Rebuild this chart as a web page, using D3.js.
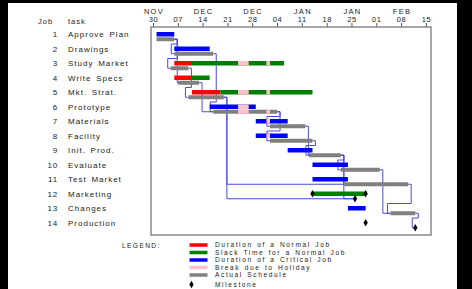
<!DOCTYPE html>
<html>
<head>
<meta charset="utf-8">
<script src="https://cdn.jsdelivr.net/npm/d3@7"></script>
<style>
  body { margin: 0; background: #000; }
  svg { display: block; }
  text { font-family: "Liberation Sans", Arial, sans-serif; fill: #222; }
</style>
</head>
<body>
<div id="chart"></div>
<script>
// project data
const tasks = ["Approve Plan","Drawings","Study Market","Write Specs","Mkt. Strat.","Prototype",
  "Materials","Facility","Init. Prod.","Evaluate","Test Market","Marketing","Changes","Production"];
const jobNums = [1,2,3,4,5,6,7,8,9,10,11,12,13,14];
const critical = [true,true,false,false,false,true,true,true,true,true,true,false,true,true];
const milestone = [false,false,false,false,false,false,false,false,false,false,false,true,false,true];
const schedStart = ["2003-12-01","2003-12-06","2003-12-06","2003-12-06","2003-12-11","2003-12-16",
  "2003-12-29","2003-12-29","2004-01-07","2004-01-14","2004-01-14","2004-01-14","2004-01-24","2004-01-29"];
const schedFinish = ["2003-12-06","2003-12-16","2003-12-11","2003-12-11","2003-12-19","2003-12-29",
  "2004-01-07","2004-01-07","2004-01-14","2004-01-24","2004-01-24","2004-01-14","2004-01-29","2004-01-29"];
const lateFinish = [null,null,"2004-01-06","2003-12-16","2004-01-14",null,
  null,null,null,null,null,"2004-01-29",null,null];
const actualStart = ["2003-12-01","2003-12-06","2003-12-05","2003-12-07","2003-12-10","2003-12-17",
  "2004-01-02","2004-01-02","2004-01-13","2004-01-22","2004-01-23","2004-01-26","2004-02-05","2004-02-12"];
const actualFinish = ["2003-12-06","2003-12-17","2003-12-10","2003-12-13","2003-12-20","2004-01-04",
  "2004-01-12","2004-01-14","2004-01-22","2004-02-02","2004-02-10","2004-01-26","2004-02-12","2004-02-12"];
const holidayStart = ["2003-12-24","2004-01-01"];
const holidayEnd = ["2003-12-27","2004-01-02"];
const links = [["Approve Plan","Drawings"],["Approve Plan","Study Market"],["Approve Plan","Write Specs"],
  ["Drawings","Prototype"],["Study Market","Mkt. Strat."],["Write Specs","Prototype"],
  ["Prototype","Materials"],["Prototype","Facility"],["Mkt. Strat.","Test Market"],["Mkt. Strat.","Marketing"],
  ["Materials","Init. Prod."],["Facility","Init. Prod."],["Init. Prod.","Evaluate"],["Init. Prod.","Test Market"],
  ["Init. Prod.","Marketing"],["Evaluate","Changes"],["Test Market","Changes"],["Changes","Production"]];
const tickDates = ["2003-11-30","2003-12-07","2003-12-14","2003-12-21","2003-12-28","2004-01-04",
  "2004-01-11","2004-01-18","2004-01-25","2004-02-01","2004-02-08","2004-02-15"];
const monthLabels = ["NOV","","DEC","","DEC","","JAN","","JAN","","FEB",""];
const legendLabels = ["Duration of a Normal Job","Slack Time for a Normal Job","Duration of a Critical Job",
  "Break due to Holiday","Actual Schedule","Milestone"];
const legendColors = ["#ff0000","#008000","#0000ff","#ffc0cb","#808080",null];

const parse = d3.utcParse("%Y-%m-%d");
const W = 472, H = 289;

const svg = d3.select("#chart").append("svg")
    .attr("width", W)
    .attr("height", H);

// white page on black
svg.append("rect").attr("x", 8).attr("y", 3).attr("width", 449).attr("height", H - 3).attr("fill", "#fff");

const x = d3.scaleUtc()
    .domain([new Date(Date.UTC(2003,10,29,10,30)), new Date(Date.UTC(2004,1,16,10,30))])
    .range([151, 431]);
const y = d3.scalePoint().domain(tasks).range([34.25, 222.75]);

const frame = {left: 151, top: 27, right: 431, bottom: 235};

// axis on top
const axis = d3.axisTop(x)
    .tickValues(tickDates.map(parse))
    .tickSize(4)
    .tickPadding(1)
    .tickFormat(d3.utcFormat("%d"));

const gAxis = svg.append("g")
    .attr("transform", `translate(0,${frame.top})`)
    .call(axis);
gAxis.select(".domain").remove();
gAxis.selectAll(".tick line").attr("stroke", "#555");
gAxis.selectAll(".tick text")
    .attr("font-size", 7.5).attr("letter-spacing", 0.6).attr("fill", "#222")
    .style("font-family", '"Liberation Sans", Arial, sans-serif');

svg.append("g").selectAll("text")
  .data(tickDates)
  .join("text")
    .attr("x", d => x(parse(d)) + 1)
    .attr("y", 13.5)
    .attr("text-anchor", "middle")
    .attr("font-size", 7.5)
    .attr("letter-spacing", 1.3)
    .text((d, i) => monthLabels[i]);

// frame
svg.append("rect")
    .attr("x", frame.left).attr("y", frame.top)
    .attr("width", frame.right - frame.left).attr("height", frame.bottom - frame.top)
    .attr("fill", "none").attr("stroke", "#888").attr("stroke-width", 1.5);

// headers and row labels
svg.append("text").attr("x", 38).attr("y", 23.5).attr("font-size", 7.5).attr("letter-spacing", 1).text("Job");
svg.append("text").attr("x", 68).attr("y", 23.5).attr("font-size", 7.5).attr("letter-spacing", 1).text("task");

svg.append("g").selectAll("text")
  .data(tasks)
  .join("text")
    .attr("x", 58)
    .attr("y", d => y(d) + 3)
    .attr("text-anchor", "end")
    .attr("font-size", 8)
    .attr("letter-spacing", 0.8)
    .text((d, i) => jobNums[i]);

svg.append("g").selectAll("text")
  .data(tasks)
  .join("text")
    .attr("x", 68)
    .attr("y", d => y(d) + 3)
    .attr("font-size", 8)
    .attr("letter-spacing", 1)
    .attr("word-spacing", 1.5)
    .text(d => d);

// precedence links (drawn under the bars)
const i0 = name => tasks.indexOf(name);
const linkPath = ([a, b]) => {
  const ia = i0(a), ib = i0(b);
  const x1 = x(parse(actualFinish[ia])), y1 = y(a) + 5;
  const x2 = x(parse(actualStart[ib])), y2 = y(b) + 5;
  const p = d3.path();
  p.moveTo(x1, y1);
  p.lineTo(x1 + 3, y1);
  if (x2 > x1 + 3) {
    p.lineTo(x1 + 3, y2);
    p.lineTo(x2, y2);
  } else {
    const yg = y(b) - 4.75;
    p.lineTo(x1 + 3, yg);
    p.lineTo(x2 - 3, yg);
    p.lineTo(x2 - 3, y2);
    p.lineTo(x2, y2);
  }
  return p.toString();
};

svg.append("g").selectAll("path")
  .data(links)
  .join("path")
    .attr("d", linkPath)
    .attr("fill", "none")
    .attr("stroke", "#4b4bdc")
    .attr("stroke-width", 1);

// bars
const gBars = svg.append("g");
const bar = (x0, x1, yy, h, color) => {
  gBars.append("rect")
      .attr("x", x0).attr("y", yy)
      .attr("width", Math.max(0, x1 - x0)).attr("height", h)
      .attr("fill", color);
};
const holidayOverlay = (s, f, yy, h) => {
  holidayStart.forEach((hs, k) => {
    const a = Math.max(+parse(hs), +s), b = Math.min(+parse(holidayEnd[k]), +f);
    if (b > a) bar(x(new Date(a)), x(new Date(b)), yy, h, "#ffc0cb");
  });
};
const diamond = d3.symbol(d3.symbolDiamond).size(16);
const gMarks = svg.append("g");
const mark = (xx, yy) => {
  gMarks.append("path").attr("d", diamond).attr("transform", `translate(${xx},${yy})`).attr("fill", "#000");
};

tasks.forEach((t, i) => {
  const yc = y(t);
  const s = parse(schedStart[i]), f = parse(schedFinish[i]);
  const lf = lateFinish[i] ? parse(lateFinish[i]) : null;
  if (milestone[i]) {
    if (lf) {
      bar(x(s), x(lf), yc - 2.25, 4.5, "#008000");
      mark(x(lf), yc);
    }
    mark(x(s), yc);
    mark(x(parse(actualStart[i])), yc + 5);
  } else {
    bar(x(s), x(f), yc - 2.25, 4.5, critical[i] ? "#0000ff" : "#ff0000");
    if (lf) bar(x(f), x(lf), yc - 2.25, 4.5, "#008000");
    holidayOverlay(s, lf || f, yc - 2.25, 4.5);
    const as = parse(actualStart[i]), af = parse(actualFinish[i]);
    bar(x(as), x(af), yc + 3, 4, "#808080");
    holidayOverlay(as, af, yc + 3, 4);
  }
});
gMarks.raise();

// legend
svg.append("text").attr("x", 122).attr("y", 247.5).attr("font-size", 6.6).attr("letter-spacing", 1.4).text("LEGEND:");
const gLeg = svg.append("g");
legendLabels.forEach((lab, i) => {
  const yy = 245 + i * 7.5 + (i === 5 ? 2 : 0);
  if (legendColors[i]) {
    gLeg.append("rect").attr("x", 189.5).attr("y", yy - 1.75).attr("width", 18).attr("height", 3.5).attr("fill", legendColors[i]);
  } else {
    gLeg.append("path").attr("d", diamond).attr("transform", `translate(191.5,${yy})`).attr("fill", "#000");
  }
  gLeg.append("text").attr("x", 215).attr("y", yy + 2.3).attr("font-size", 6.6).attr("letter-spacing", 1.6).attr("word-spacing", 1).text(lab);
});
</script>
</body>
</html>
